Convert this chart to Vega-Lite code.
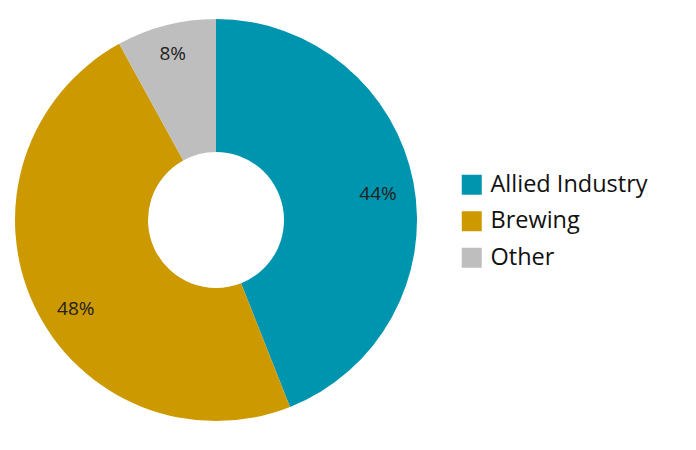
{
  "$schema": "https://vega.github.io/schema/vega-lite/v6.json",
  "width": 422,
  "height": 430,
  "padding": 5,
  "background": "white",
  "config": {"view": {"stroke": null}, "font": "Open Sans"},
  "data": {"values": [
    {"category": "Allied Industry", "value": 44, "label": "44%", "order": 1},
    {"category": "Brewing", "value": 48, "label": "48%", "order": 2},
    {"category": "Other", "value": 8, "label": "8%", "order": 3}
  ]},
  "encoding": {
    "theta": {"field": "value", "type": "quantitative", "stack": true},
    "order": {"field": "order", "type": "quantitative"}
  },
  "layer": [
    {
      "mark": {"type": "arc", "outerRadius": 201, "innerRadius": 68},
      "encoding": {
        "color": {
          "field": "category", "type": "nominal",
          "scale": {"domain": ["Allied Industry", "Brewing", "Other"], "range": ["#0095AF", "#CC9900", "#BEBEBE"]},
          "legend": {
            "title": null, "orient": "none", "legendX": 455, "legendY": 168,
            "symbolType": "square", "symbolSize": 400, "symbolStrokeWidth": 0,
            "labelFontSize": 23.5, "labelFont": "Open Sans", "labelColor": "#111",
            "labelOffset": 7, "rowPadding": 11.5, "padding": 0
          }
        }
      }
    },
    {
      "mark": {"type": "text", "radius": 166, "dx": -1, "dy": 5, "fontSize": 19, "fontWeight": 500, "font": "Open Sans", "color": "#222"},
      "encoding": {"text": {"condition": {"test": "datum.category === 'Allied Industry'", "field": "label"}, "value": ""}}
    },
    {
      "mark": {"type": "text", "radius": 166, "dx": 10, "dy": 18, "fontSize": 19, "fontWeight": 500, "font": "Open Sans", "color": "#222"},
      "encoding": {"text": {"condition": {"test": "datum.category === 'Brewing'", "field": "label"}, "value": ""}}
    },
    {
      "mark": {"type": "text", "radius": 166, "dx": -2, "dy": -5, "fontSize": 19, "fontWeight": 500, "font": "Open Sans", "color": "#222"},
      "encoding": {"text": {"condition": {"test": "datum.category === 'Other'", "field": "label"}, "value": ""}}
    }
  ]
}
